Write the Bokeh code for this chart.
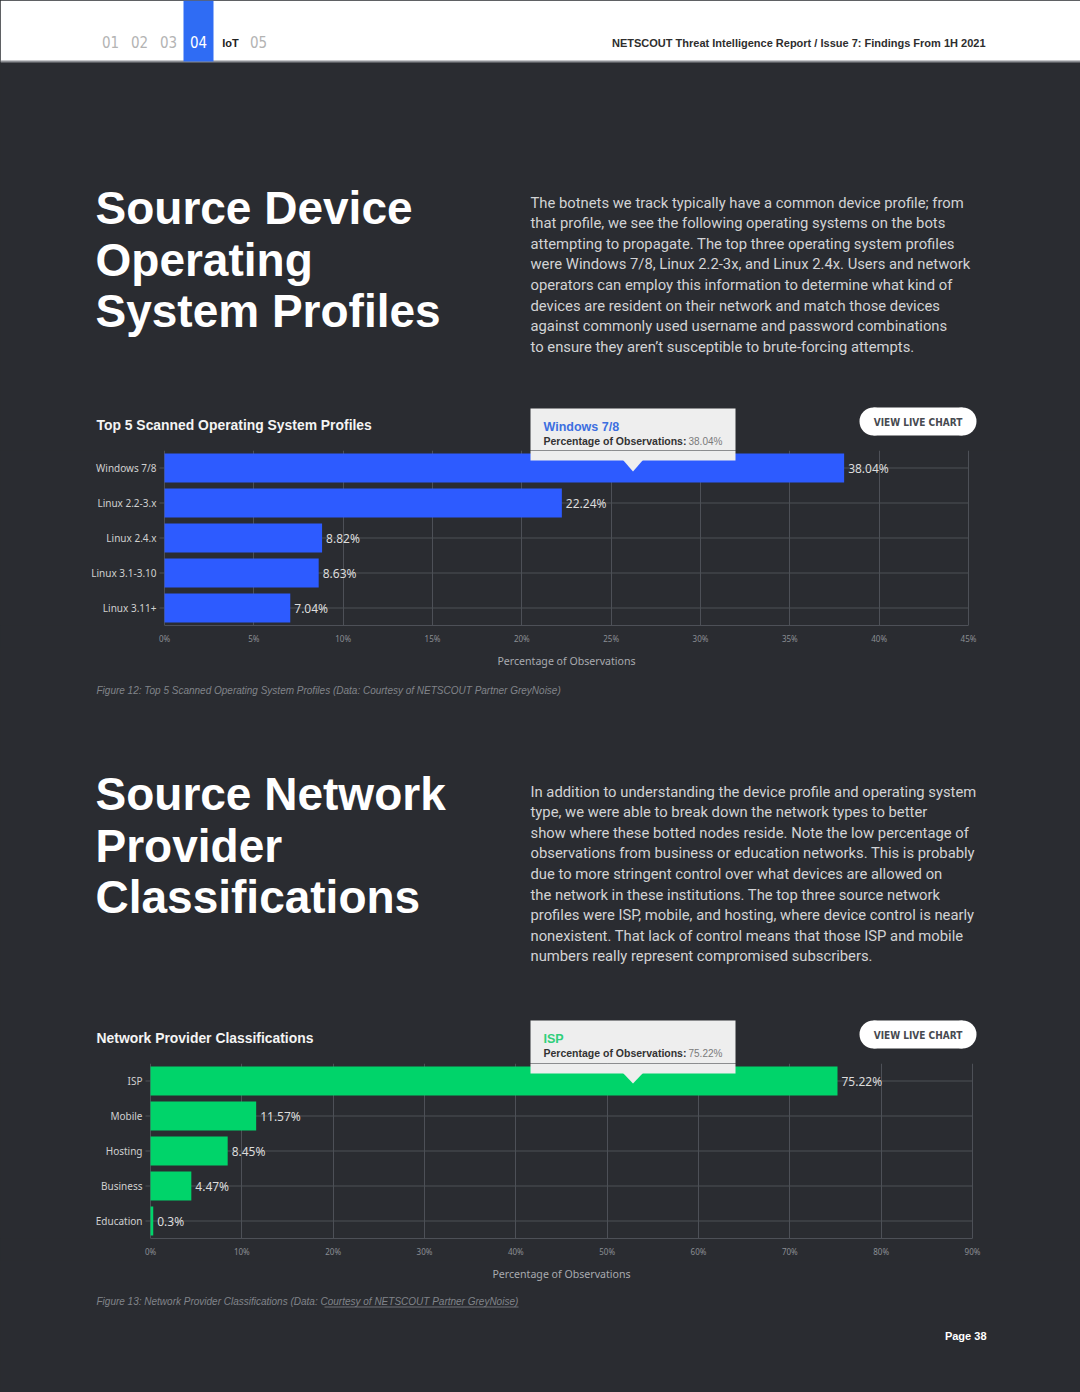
from bokeh.plotting import figure
from bokeh.layouts import column
from bokeh.models import (Range1d, FactorRange, FixedTicker, PrintfTickFormatter,
                          LabelSet, ColumnDataSource, GlobalInlineStyleSheet)
from bokeh.core.properties import value
from bokeh.embed import file_html
from bokeh.resources import INLINE

# ---------------- data ----------------
os_categories = ["Windows 7/8", "Linux 2.2-3.x", "Linux 2.4.x", "Linux 3.1-3.10", "Linux 3.11+"]
os_values = [38.04, 22.24, 8.82, 8.63, 7.04]
os_ticks = [0, 5, 10, 15, 20, 25, 30, 35, 40, 45]

net_categories = ["ISP", "Mobile", "Hosting", "Business", "Education"]
net_values = [75.22, 11.57, 8.45, 4.47, 0.3]
net_ticks = [0, 10, 20, 30, 40, 50, 60, 70, 80, 90]

nav_items = ["01", "02", "03", "04", "IoT", "05"]

para1 = [
    "The botnets we track typically have a common device profile; from",
    "that profile, we see the following operating systems on the bots",
    "attempting to propagate. The top three operating system profiles",
    "were Windows 7/8, Linux 2.2-3x, and Linux 2.4x. Users and network",
    "operators can employ this information to determine what kind of",
    "devices are resident on their network and match those devices",
    "against commonly used username and password combinations",
    "to ensure they aren\u2019t susceptible to brute-forcing attempts.",
]
para2 = [
    "In addition to understanding the device profile and operating system",
    "type, we were able to break down the network types to better",
    "show where these botted nodes reside. Note the low percentage of",
    "observations from business or education networks. This is probably",
    "due to more stringent control over what devices are allowed on",
    "the network in these institutions. The top three source network",
    "profiles were ISP, mobile, and hosting, where device control is nearly",
    "nonexistent. That lack of control means that those ISP and mobile",
    "numbers really represent compromised subscribers.",
]
title1 = ["Source Device", "Operating", "System Profiles"]
title2 = ["Source Network", "Provider", "Classifications"]
axis_title = "Percentage of Observations"

# ---------------- styles ----------------
BG = "#2a2c31"
GRID = "#4d5057"
W = 1080
FRAME_H = 175
CHART_H = 197
HEAD_FONT = "Liberation Sans"
BODY_FONT = "Roboto"
CHART_FONT = "Noto Sans"
NARROW_FONT = "Liberation Sans Narrow, DejaVu Sans Condensed, Roboto"
BLUE = "#2d5bff"
GREEN = "#00d46a"


def text_fig(y0, y1):
    p = figure(width=W, height=y1 - y0, x_range=Range1d(0, W), y_range=Range1d(y1, y0),
               output_backend="svg", toolbar_location=None, title=None,
               x_axis_location=None, y_axis_location=None, min_border=0,
               background_fill_color=BG, border_fill_color=BG, outline_line_color=None)
    p.xgrid.grid_line_color = None
    p.ygrid.grid_line_color = None
    return p


def put(p, x, y, s, size, color, font=BODY_FONT, style="normal", align="left", baseline="middle"):
    p.text(x=[x], y=[y], text=[s], text_font=value(font), text_font_size=f"{size}px",
           text_color=color, text_font_style=style, text_align=align, text_baseline=baseline)


def pill(p, x0, x1, y0, y1, label):
    r = (y1 - y0) / 2
    p.quad(left=[x0 + r], right=[x1 - r], top=[y0], bottom=[y1], fill_color="#ffffff", line_color=None)
    p.circle(x=[x0 + r, x1 - r], y=[y0 + r, y0 + r], radius=r, fill_color="#ffffff", line_color=None)
    put(p, (x0 + x1) / 2, y0 + r + 0.5, label, 10, "#474a50", font=NARROW_FONT,
        style="bold", align="center")


def chart_fig(cats, vals, ticks, color, frame_left, frame_right, frame_top):
    # the plot frame spans the page width; the data range is chosen so that the
    # first tick sits at frame_left and the last at frame_right
    xmax = ticks[-1]
    s = (frame_right - frame_left) / xmax          # pixels per percent
    x_start = -frame_left / s
    x_end = xmax + (W - frame_right) / s
    p = figure(width=W, height=CHART_H, y_range=FactorRange(factors=cats[::-1]),
               x_range=Range1d(x_start, x_end), output_backend="svg",
               toolbar_location=None, title=None, y_axis_location=None,
               min_border_left=0, min_border_right=0,
               min_border_top=0, min_border_bottom=CHART_H - FRAME_H,
               background_fill_color=BG, border_fill_color=BG, outline_line_color=None)
    p.ygrid.grid_line_color = None
    ncat = len(cats)
    p._px = lambda px: (px - frame_left) / s
    p._py = lambda py: ncat - (py - frame_top) / FRAME_H * ncat
    src = ColumnDataSource(dict(cat=cats, val=vals, lab=[f"{v}%" for v in vals],
                                zero=[0] * ncat, end=[xmax] * ncat))
    # horizontal grid lines through each category, from 0 to the last tick
    p.segment(x0="zero", y0="cat", x1="end", y1="cat", source=src, line_color=GRID, line_width=1)
    # tiny tick marks left of the axis
    p.scatter(x=[-2.5 / s] * ncat, y=cats, marker="dash", size=5, line_color=GRID, line_width=1)
    p.hbar(y="cat", left=0, right="val", height=0.83, source=src, fill_color=color, line_color=None)
    p.text(x="zero", y="cat", text="cat", source=src, x_offset=-8, text_align="right",
           text_baseline="middle", text_font=value(CHART_FONT), text_font_size="10px",
           text_color="#d0d0d0")
    p.add_layout(LabelSet(x="val", y="cat", text="lab", source=src, x_offset=4,
                          text_baseline="middle", text_font=value(CHART_FONT),
                          text_font_size="12px", text_color="#dcdcdc"))
    p.xaxis.ticker = FixedTicker(ticks=ticks)
    p.xaxis.bounds = (0, xmax)
    p.xgrid.ticker = FixedTicker(ticks=ticks)
    p.xaxis.formatter = PrintfTickFormatter(format="%d%%")
    p.xgrid.grid_line_color = GRID
    p.xaxis.axis_line_color = GRID
    p.xaxis.major_tick_line_color = None
    p.xaxis.minor_tick_line_color = None
    p.xaxis.major_tick_out = 0
    p.xaxis.major_tick_in = 0
    p.xaxis.major_label_standoff = 7
    p.xaxis.major_label_text_font = CHART_FONT
    p.xaxis.major_label_text_font_size = "8px"
    p.xaxis.major_label_text_color = "#8b8e94"
    return p


def tooltip_top(p, x0, x1, y0, y1, name, val, color):
    p.quad(left=[x0], right=[x1], top=[y0], bottom=[y1], fill_color="#eeeeee", line_color=None)
    put(p, x0 + 13, y0 + 18, name, 12.5, color, font=HEAD_FONT, style="bold")
    put(p, x0 + 13, y0 + 32.5, "Percentage of Observations:", 10.5, "#333333", font=HEAD_FONT, style="bold")
    put(p, x0 + 158, y0 + 32.5, f"{val}%", 10, "#7a7a7a", font=HEAD_FONT)


def tooltip_bottom(p, x0, x1, y_top, y_bot, tip_x, tip_y):
    X, Y = p._px, p._py
    p.quad(left=[X(x0)], right=[X(x1)], top=[Y(y_top - 20)], bottom=[Y(y_bot)], fill_color="#eeeeee",
           line_color=None)
    p.patch(x=[X(tip_x - 10), X(tip_x + 10), X(tip_x)], y=[Y(y_bot - 0.5), Y(y_bot - 0.5), Y(tip_y)],
            fill_color="#eeeeee", line_color=None)


# ---------------- top text figure: y 0..450 ----------------
t1 = text_fig(0, 450)
t1.quad(left=[0], right=[W], top=[0], bottom=[61], fill_color="#ffffff", line_color=None)
t1.quad(left=[0], right=[W], top=[60], bottom=[62], fill_color="#8c8e93", line_color=None)
t1.quad(left=[183], right=[213], top=[0], bottom=[61], fill_color="#2f6cf4", line_color=None)
nav_x = [110, 139, 168, 198, 230, 258]
for nx, item in zip(nav_x, nav_items):
    if item == "IoT":
        put(t1, nx, 42, item, 11, "#222222", font=HEAD_FONT, style="bold", align="center")
    else:
        col = "#ffffff" if item == "04" else "#b3b3b3"
        put(t1, nx, 41.5, item, 15, col, font=NARROW_FONT, align="center")
put(t1, 985, 42, "NETSCOUT Threat Intelligence Report / Issue 7: Findings From 1H 2021", 11,
    "#2e2e2e", font=HEAD_FONT, style="bold", align="right")
for i, line in enumerate(title1):
    put(t1, 95, 207.5 + i * 51.5, line, 46, "#ffffff", font=HEAD_FONT, style="bold", baseline="alphabetic")
for i, line in enumerate(para1):
    put(t1, 530, 202 + i * 20.6, line, 14.8, "#d2d3d5", baseline="alphabetic")
put(t1, 96, 424, "Top 5 Scanned Operating System Profiles", 13.9, "#f4f4f4", font=HEAD_FONT,
    style="bold", baseline="alphabetic")
tooltip_top(t1, 530, 735, 408, 450, os_categories[0], os_values[0], "#3d6fe0")
pill(t1, 859, 976, 407, 435, "VIEW LIVE CHART")

# ---------------- chart 1: y 450..647 ----------------
c1 = chart_fig(os_categories, os_values, os_ticks, BLUE, 164, 968, 450)
tooltip_bottom(c1, 530, 735, 450, 460, 632.5, 471)

# ---------------- middle text figure: y 647..1063 ----------------
t2 = text_fig(647, 1063)
put(t2, (164 + 968) / 2, 660, axis_title, 10.6, "#a8aaaf", font=CHART_FONT, align="center")
put(t2, 96, 690, "Figure 12: Top 5 Scanned Operating System Profiles (Data: Courtesy of NETSCOUT Partner GreyNoise)",
    10, "#81848a", font=HEAD_FONT, style="italic", baseline="alphabetic")
for i, line in enumerate(title2):
    put(t2, 95, 793.5 + i * 51.5, line, 46, "#ffffff", font=HEAD_FONT, style="bold", baseline="alphabetic")
for i, line in enumerate(para2):
    put(t2, 530, 791 + i * 20.6, line, 14.8, "#d2d3d5", baseline="alphabetic")
put(t2, 96, 1037, "Network Provider Classifications", 13.9, "#f4f4f4", font=HEAD_FONT,
    style="bold", baseline="alphabetic")
tooltip_top(t2, 530, 735, 1020, 1063, net_categories[0], net_values[0], "#2fcf7a")
pill(t2, 859, 976, 1020, 1048, "VIEW LIVE CHART")

# ---------------- chart 2: y 1063..1260 ----------------
c2 = chart_fig(net_categories, net_values, net_ticks, GREEN, 150, 972, 1063)
tooltip_bottom(c2, 530, 735, 1063, 1073, 632.5, 1083)

# ---------------- bottom text figure: y 1260..1392 ----------------
t3 = text_fig(1260, 1392)
put(t3, (150 + 972) / 2, 1273, axis_title, 10.6, "#a8aaaf", font=CHART_FONT, align="center")
cap2_a = "Figure 13: Network Provider Classifications (Data: "
cap2_b = "Courtesy of NETSCOUT Partner GreyNoise"
put(t3, 96, 1301, cap2_a + cap2_b + ")", 10, "#81848a", font=HEAD_FONT, style="italic", baseline="alphabetic")
t3.segment(x0=[324], y0=[1306.5], x1=[518], y1=[1306.5], line_color="#81848a", line_width=0.8)
put(t3, 986, 1335, "Page 38", 11, "#ffffff", font=HEAD_FONT, style="bold", align="right", baseline="alphabetic")

css = GlobalInlineStyleSheet(css="html, body { background: #2a2c31; }")
layout = column(t1, c1, t2, c2, t3, spacing=0, stylesheets=[css])

open("out.html", "w").write(file_html(layout, INLINE))
